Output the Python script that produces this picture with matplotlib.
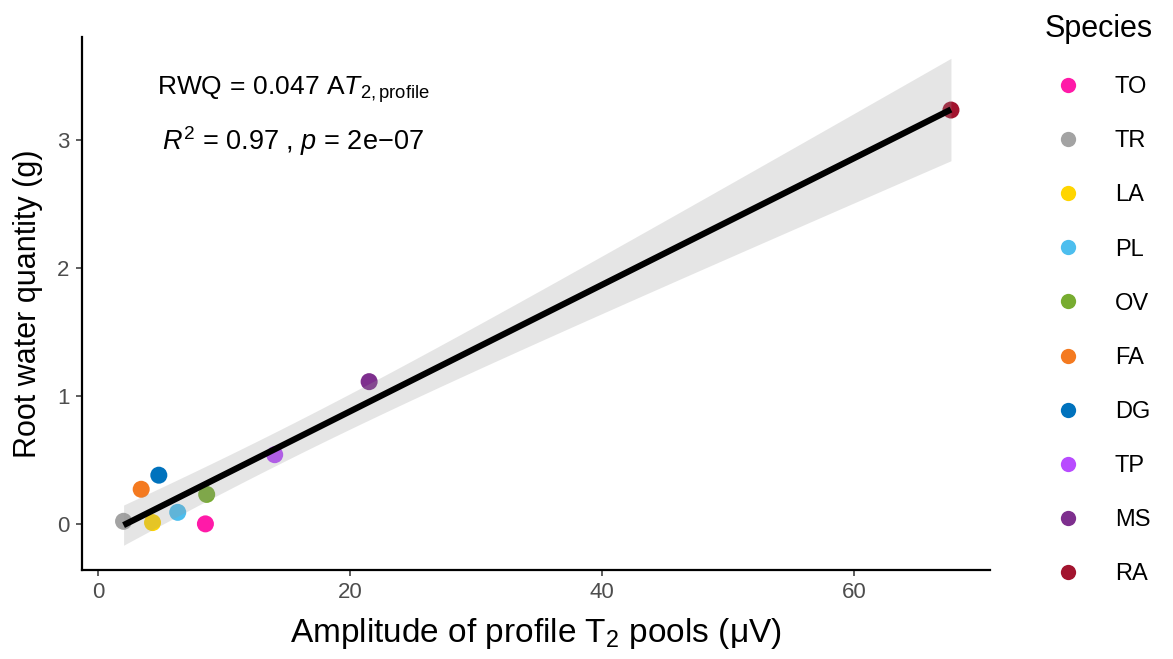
import numpy as np
import matplotlib
matplotlib.use('Agg')
import matplotlib.pyplot as plt
from matplotlib.lines import Line2D

plt.rcParams['font.family'] = ['Liberation Sans', 'DejaVu Sans']
plt.rcParams['mathtext.fontset'] = 'custom'
plt.rcParams['mathtext.rm'] = 'Liberation Sans'
plt.rcParams['mathtext.it'] = 'Liberation Sans:italic'

# data
species = ['TO', 'TR', 'LA', 'PL', 'OV', 'FA', 'DG', 'TP', 'MS', 'RA']
amplitude = [8.5, 2.0, 4.3, 6.3, 8.6, 3.4, 4.8, 14.0, 21.5, 67.7]
rwq = [0.00, 0.02, 0.01, 0.09, 0.23, 0.27, 0.38, 0.54, 1.11, 3.23]
colors = ['#FF1AA8', '#A3A3A3', '#FFD500', '#4DBEEE', '#77AC30',
          '#F47A20', '#0072BD', '#B84BFF', '#7E2F8E', '#A2142F']

x = np.array(amplitude)
y = np.array(rwq)

# linear fit + 95% confidence band
n = len(x)
slope, intercept = np.polyfit(x, y, 1)
xs = np.linspace(x.min(), x.max(), 200)
ys = intercept + slope * xs
resid = y - (intercept + slope * x)
s_err = np.sqrt(np.sum(resid ** 2) / (n - 2))
t_val = 2.306  # t(0.975, df=8)
se_fit = s_err * np.sqrt(1 / n + (xs - x.mean()) ** 2 / np.sum((x - x.mean()) ** 2))

fig = plt.figure(figsize=(11.73, 6.59), dpi=100)
ax = fig.add_axes([82 / 1173, 89 / 659, 908 / 1173, 533 / 659])

for xi, yi, c in zip(x, y, colors):
    ax.scatter(xi, yi, s=150, color=c, edgecolors='none', zorder=2)

ax.fill_between(xs, ys - t_val * se_fit, ys + t_val * se_fit,
                color='#999999', alpha=0.25, linewidth=0, zorder=3)
ax.plot(xs, ys, color='black', linewidth=4.5, solid_capstyle='butt', zorder=4)

ax.set_xlim(-1.3, 70.8)
ax.set_ylim(-0.36, 3.80)
ax.set_xticks([0, 20, 40, 60])
ax.set_yticks([0, 1, 2, 3])
for side in ['top', 'right']:
    ax.spines[side].set_visible(False)
for side in ['left', 'bottom']:
    ax.spines[side].set_linewidth(1.6)
ax.tick_params(axis='both', direction='out', length=4, width=1.1, pad=5,
               color='#333333', labelcolor='#4D4D4D', labelsize=16)

ax.set_xlabel('Amplitude of profile T$_2$ pools (μV)', fontsize=24, labelpad=9)
ax.set_ylabel('Root water quantity (g)', fontsize=22, labelpad=10)

ax.text(0.083, 0.902, r'RWQ$\,=\,$0.047 A$\mathit{T}_{\mathrm{2,profile}}$',
        transform=ax.transAxes, fontsize=19, ha='left', va='center')
ax.text(0.088, 0.805, r'$\mathit{R}^{2}$ = 0.97 , $\mathit{p}$ = 2e−07',
        transform=ax.transAxes, fontsize=19.5, ha='left', va='center')

handles = [Line2D([0], [0], marker='o', linestyle='none', markersize=11,
                  markerfacecolor=c, markeredgecolor='none') for c in colors]
fig.legend(handles, species, title='Species', loc='upper left',
           bbox_to_anchor=(1030 / 1173, 1.0), frameon=False,
           fontsize=17, title_fontsize=22, labelspacing=1.36,
           handletextpad=1.0, borderaxespad=0.2)
leg = fig.legends[0]
leg._legend_box.align = 'left'

fig.savefig('out.png', dpi=100)
